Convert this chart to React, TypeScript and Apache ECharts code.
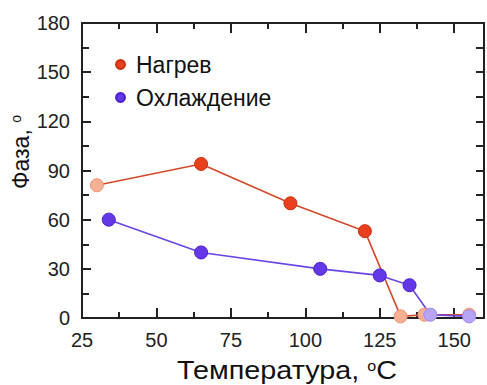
import React, { useEffect, useRef } from "react";
import * as echarts from "echarts";

const heatingName = "Нагрев";
const coolingName = "Охлаждение";
const heatingData: [number, number][] = [
  [30, 81], [65, 94], [95, 70], [120, 53], [132, 1], [140, 2], [155, 2],
];
const heatingFaded = [true, false, false, false, true, true, true];
const coolingData: [number, number][] = [
  [34, 60], [65, 40], [105, 30], [125, 26], [135, 20], [142, 2], [155, 1],
];
const coolingFaded = [false, false, false, false, false, true, true];
const xTitle = "Температура, ";
const yTitle = "Фаза, ";

const FONT = "'Liberation Sans', Arial, sans-serif";

export default function App() {
  const ref = useRef<HTMLDivElement>(null);
  useEffect(() => {
    if (!ref.current) return;
    const chart = echarts.init(ref.current, null, { renderer: "svg" });
    const c = "#222222";
    const ax = (major: number, minorLen: number) => ({
      axisLine: { show: true, onZero: false, lineStyle: { color: c, width: 2 } },
      axisTick: { show: true, inside: true, length: major, lineStyle: { color: c, width: 2 } },
      minorTick: { show: true, splitNumber: 2, length: minorLen, lineStyle: { color: c, width: 2 } },
      splitLine: { show: false },
    });
    const red = "#e8401e";
    const redFade = "#f6b094";
    const blue = "#6438e6";
    const blueFade = "#b8a4f4";
    chart.setOption({
      animation: false,
      grid: { left: 82, right: 1, top: 23, bottom: 67 },
      legend: {
        left: 110,
        top: 48,
        orient: "vertical",
        itemWidth: 9,
        itemHeight: 9,
        itemGap: 10,
        icon: "circle",
        textStyle: { fontSize: 23, color: "#111", fontFamily: FONT, padding: [0, 0, 0, 6] },
        data: [heatingName, coolingName],
      },
      xAxis: [
        {
          type: "value", min: 25, max: 160, interval: 25, position: "bottom",
          ...ax(10, 6),
          axisLabel: {
            fontSize: 20, color: "#222", fontFamily: FONT, margin: 12,
            formatter: (v: number) => (v % 25 === 0 ? String(v) : ""),
          },
        },
        {
          type: "value", min: 25, max: 160, interval: 25, position: "top",
          ...ax(10, 6),
          axisLabel: { show: false },
        },
      ],
      yAxis: [
        {
          type: "value", min: 0, max: 180, interval: 30, position: "left",
          ...ax(9, 7),
          axisLabel: { fontSize: 20, color: "#222", fontFamily: FONT, margin: 12 },
        },
        {
          type: "value", min: 0, max: 180, interval: 30, position: "right",
          ...ax(8, 8),
          axisLabel: { show: false },
        },
      ],
      graphic: [
        {
          type: "text",
          x: 287,
          y: 371,
          scaleX: 1.15,
          style: {
            text: "{t|" + xTitle + "}{s|o}{t|C}",
            align: "center",
            verticalAlign: "middle",
            rich: {
              t: { fontSize: 25, fontFamily: FONT, fill: "#111" },
              s: { fontSize: 14, fontFamily: FONT, fill: "#111", padding: [0, 0, 10, 0] },
            },
          },
        },
        {
          type: "text",
          x: 21,
          y: 152,
          rotation: Math.PI / 2,
          style: {
            text: "{t|" + yTitle + "}{s|o}",
            align: "center",
            verticalAlign: "middle",
            rich: {
              t: { fontSize: 23, fontFamily: FONT, fill: "#111" },
              s: { fontSize: 14, fontFamily: FONT, fill: "#111", padding: [0, 0, 10, 0] },
            },
          },
        },
      ],
      series: [
        {
          name: heatingName,
          type: "line",
          xAxisIndex: 0,
          yAxisIndex: 0,
          symbol: "circle",
          symbolSize: 13,
          lineStyle: { color: "#d44a28", width: 1.6 },
          itemStyle: { color: red, borderColor: "#c8300e", borderWidth: 1 },
          data: heatingData.map((p, i) => ({
            value: p,
            itemStyle: heatingFaded[i]
              ? { color: redFade, borderColor: "#f09070" }
              : { color: red, borderColor: "#c8300e" },
          })),
        },
        {
          name: coolingName,
          type: "line",
          xAxisIndex: 0,
          yAxisIndex: 0,
          symbol: "circle",
          symbolSize: 13,
          lineStyle: { color: "#6a46e6", width: 1.6 },
          itemStyle: { color: blue, borderColor: "#4a20d0", borderWidth: 1 },
          data: coolingData.map((p, i) => ({
            value: p,
            itemStyle: coolingFaded[i]
              ? { color: blueFade, borderColor: "#a088f0" }
              : { color: blue, borderColor: "#4a20d0" },
          })),
        },
      ],
    });
    return () => chart.dispose();
  }, []);
  return (
    <div
      ref={ref}
      style={{ position: "fixed", left: 0, top: 0, width: 487, height: 385, background: "#fff" }}
    />
  );
}
